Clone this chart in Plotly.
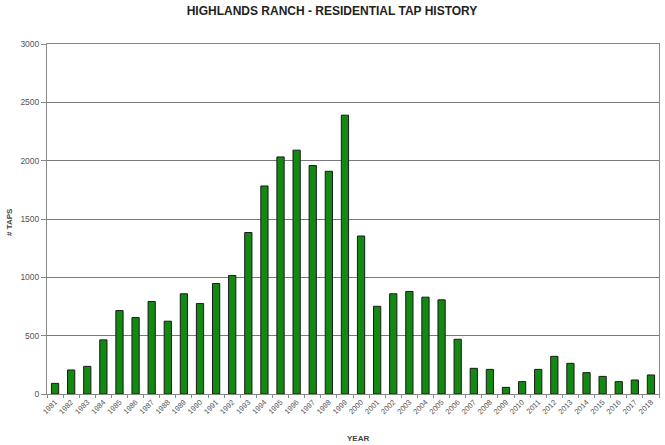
import plotly.graph_objects as go

years = [str(y) for y in range(1981, 2019)]
taps = [91, 206, 237, 464, 715, 655, 793, 624, 859, 775, 947, 1016, 1384,
        1783, 2032, 2090, 1958, 1909, 2390, 1354, 752, 859, 879, 830, 807,
        469, 220, 211, 57, 106, 211, 323, 263, 183, 151, 106, 120, 163]
y_ticks = [0, 500, 1000, 1500, 2000, 2500, 3000]

W, H = 665, 445
pl, pr, pt, pb = 47, 6, 44, 51
pw, ph = W - pl - pr, H - pt - pb

fig = go.Figure()
fig.add_trace(go.Bar(
    x=years, y=taps,
    marker=dict(color="#128a12", line=dict(color="#1a1a1a", width=1)),
    width=0.45,
))

fig.update_layout(
    width=W, height=H,
    margin=dict(l=pl, r=pr, t=pt, b=pb, autoexpand=False),
    paper_bgcolor="white", plot_bgcolor="white",
    showlegend=False,
    font=dict(family="Arial, Liberation Sans, sans-serif", color="#555"),
    title=dict(text="<b>HIGHLANDS RANCH - RESIDENTIAL TAP HISTORY</b>",
               x=332 / W, xanchor="center", y=1 - 10.5 / H, yanchor="middle",
               font=dict(size=12, color="#222")),
    bargap=0.5,
)
fig.update_xaxes(
    type="category", tickangle=-45, tickfont=dict(size=7.5, color="#555"),
    showline=True, linecolor="#888", linewidth=1, mirror=True,
    ticks="outside", ticklen=3, tickcolor="#888", showgrid=False,
    tickson="boundaries", automargin=False,
)
fig.update_yaxes(
    range=[0, 3000], tickvals=y_ticks, tickfont=dict(size=8.5, color="#555"),
    showline=True, linecolor="#888", linewidth=1, mirror=True,
    ticks="outside", ticklen=5, tickcolor="#888",
    showgrid=True, gridcolor="#7a7a7a", gridwidth=1, zeroline=False,
    automargin=False,
)
fig.add_annotation(text="<b># TAPS</b>", xref="paper", yref="paper",
                   x=(9 - pl) / pw, y=(H - pb - 222) / ph,
                   xanchor="center", yanchor="middle",
                   showarrow=False, textangle=-90, font=dict(size=8, color="#444"))
fig.add_annotation(text="<b>YEAR</b>", xref="paper", yref="paper",
                   x=(358 - pl) / pw, y=(H - pb - 438) / ph,
                   xanchor="center", yanchor="middle",
                   showarrow=False, font=dict(size=8, color="#444"))

fig.write_html("out.html", config={"displayModeBar": False},
               post_script="document.body.style.margin='0px';")
